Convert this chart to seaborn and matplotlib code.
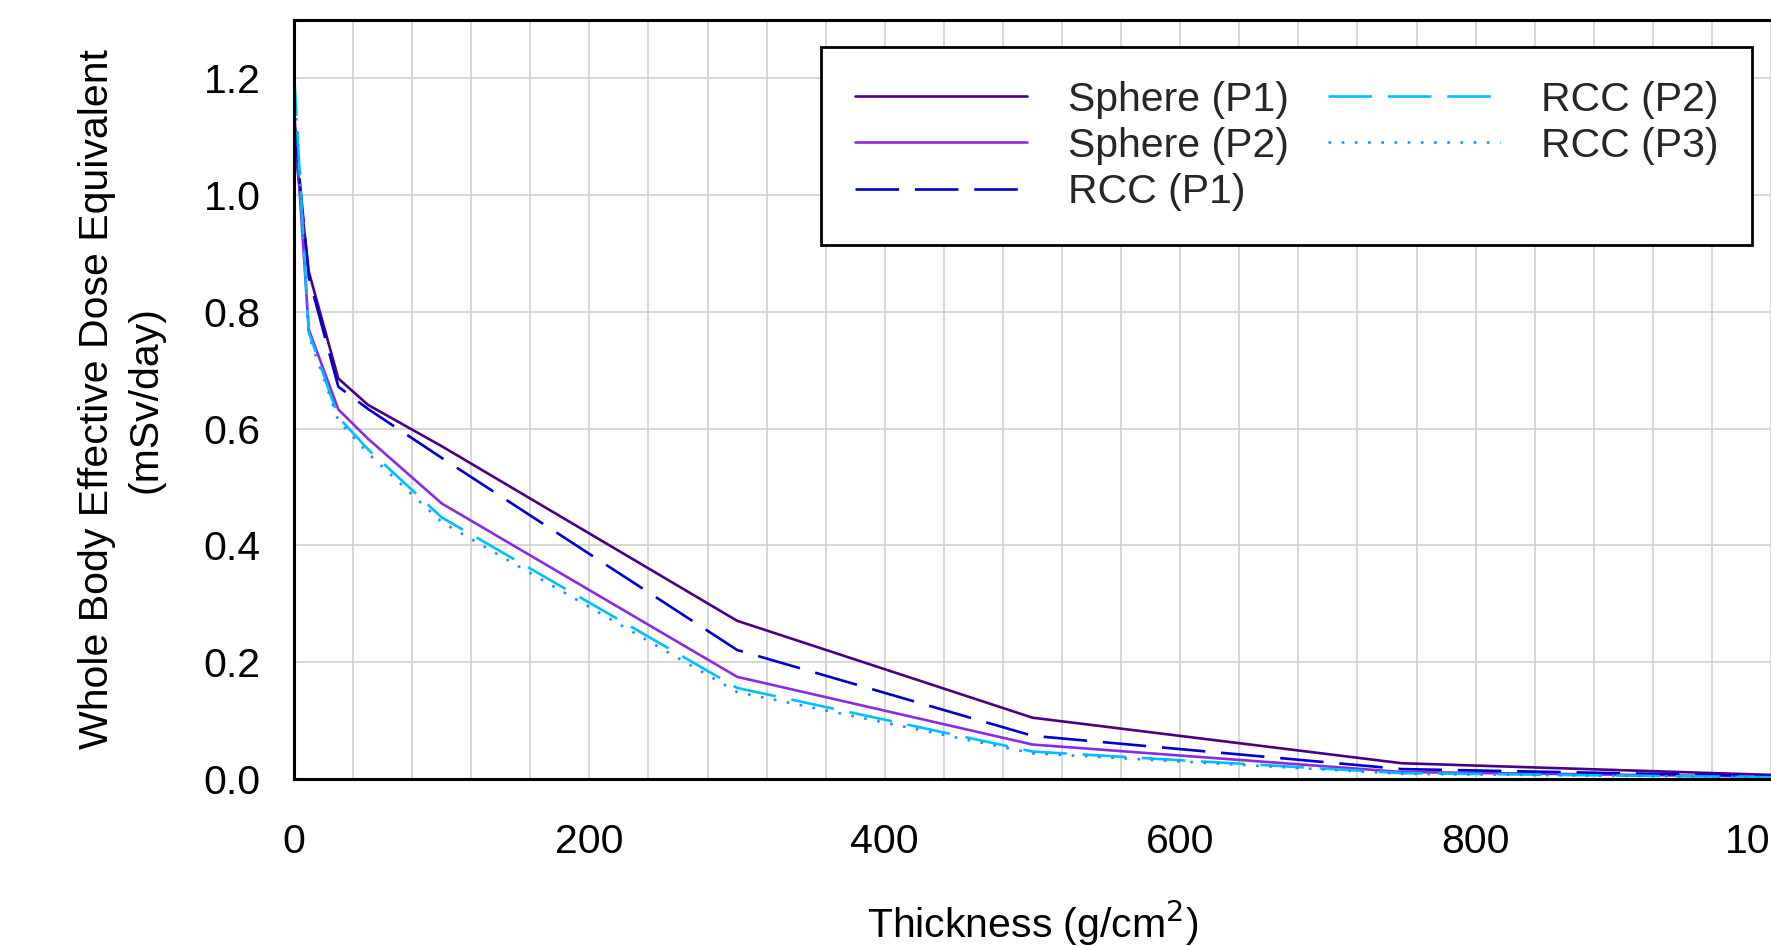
import matplotlib
matplotlib.use("Agg")
import matplotlib.pyplot as plt
import numpy as np
import pandas as pd
import seaborn as sns
from matplotlib.ticker import MultipleLocator, FormatStrFormatter

# ---- data ----
thickness = [0, 10, 30, 50, 100, 300, 500, 750, 1000]
sphere_p1 = [1.10, 0.869, 0.686, 0.641, 0.570, 0.271, 0.105, 0.027, 0.007]
sphere_p2 = [1.15, 0.770, 0.633, 0.583, 0.472, 0.175, 0.059, 0.012, 0.004]
rcc_p1 = [1.13, 0.860, 0.672, 0.634, 0.550, 0.221, 0.074, 0.017, 0.005]
rcc_p2 = [1.21, 0.765, 0.620, 0.565, 0.448, 0.156, 0.047, 0.010, 0.003]
rcc_p3 = [1.20, 0.760, 0.614, 0.558, 0.440, 0.149, 0.044, 0.009, 0.003]
series_labels = ["Sphere (P1)", "Sphere (P2)", "RCC (P1)", "RCC (P2)", "RCC (P3)"]
x_ticks = [0, 200, 400, 600, 800, 1000]
y_ticks = [0.0, 0.2, 0.4, 0.6, 0.8, 1.0, 1.2]

series_values = [sphere_p1, sphere_p2, rcc_p1, rcc_p2, rcc_p3]
colors = ["#4B0082", "#8A2BE2", "#0000CD", "#00BFFF", "#1E90FF"]
linestyles = ["-", "-", (0, (16.5, 6)), (0, (16.5, 6)), (0, (1, 4))]

sns.set_style("white")
plt.rcParams["font.family"] = ["Liberation Sans", "DejaVu Sans"]
FS = 29.5

fig = plt.figure(figsize=(17.71, 9.47), dpi=100)
ax = fig.add_axes([294 / 1771, 1 - 779 / 947, (1771 - 294) / 1771, (779 - 20) / 947])

df = pd.DataFrame({"thickness": thickness})
handles = []
for lab, vals, c, ls in zip(series_labels, series_values, colors, linestyles):
    df[lab] = vals
    n_before = len(ax.lines)
    sns.lineplot(data=df, x="thickness", y=lab, ax=ax, color=c, linewidth=1.9,
                 linestyle=ls, sort=False, estimator=None, legend=False, label=lab)
    handles.append(ax.lines[n_before])

ax.set_xlim(0, 1000)
ax.set_ylim(0, 1.3)
ax.set_xticks(x_ticks)
ax.set_yticks(y_ticks)
ax.yaxis.set_major_formatter(FormatStrFormatter("%.1f"))
ax.xaxis.set_minor_locator(MultipleLocator(40))

ax.set_axisbelow(True)
ax.grid(which="both", axis="x", color="#CDCDCD", linewidth=1.1)
ax.grid(which="major", axis="y", color="#CDCDCD", linewidth=1.1)

for side in ["left", "bottom", "top"]:
    ax.spines[side].set_color("black")
    ax.spines[side].set_linewidth(2.2)
ax.spines["right"].set_visible(False)

ax.tick_params(axis="both", which="major", direction="out", length=11, width=2.0,
               color="black", labelsize=FS, labelcolor="black")
ax.tick_params(axis="x", which="major", pad=21)
ax.tick_params(axis="y", which="major", pad=13)
ax.tick_params(axis="both", which="minor", length=0)

ax.set_xlabel("Thickness (g/cm$^2$)", fontsize=FS, labelpad=27, color="black")
ax.set_ylabel("Whole Body Effective Dose Equivalent\n(mSv/day)", fontsize=FS,
              labelpad=28, color="black", linespacing=1.35)

leg = ax.legend(handles=handles, labels=series_labels, ncol=2, fontsize=FS,
                loc="upper right", bbox_to_anchor=(1 - 19 / 1477, 1 - 27 / 759),
                borderaxespad=0, handlelength=4.2, handletextpad=1.0,
                columnspacing=0.95, labelspacing=0.2, borderpad=0.82,
                fancybox=False, framealpha=1, edgecolor="black")
leg.get_frame().set_linewidth(2.0)

fig.savefig("out.png", dpi=100)
